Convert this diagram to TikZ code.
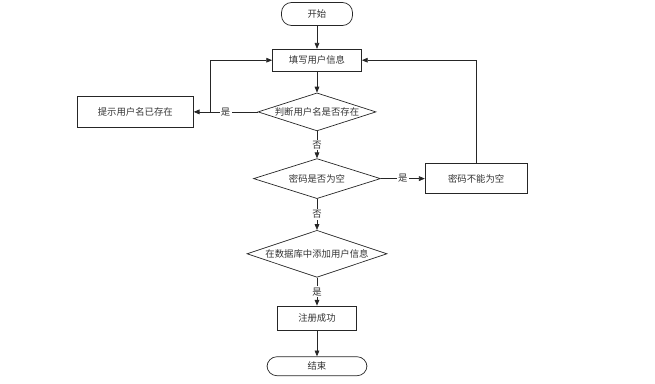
\documentclass[tikz,border=0pt]{standalone}
\usepackage{fontspec}
\newfontfamily\cjk{Noto Sans CJK SC}
\usetikzlibrary{positioning, arrows.meta, shapes.geometric}

\begin{document}
\begin{tikzpicture}[
    node distance=0.7cm,
    every node/.style={font=\cjk\fontsize{8pt}{9pt}\selectfont, text=black!80},
    flow terminal/.style={
      rectangle,
      draw=black!85,
      rounded corners=0.3cm,
      line width=0.6pt,
      inner sep=0pt
    },
    flow box/.style={
      rectangle,
      draw=black!85,
      line width=0.6pt,
      inner sep=0pt
    },
    flow test/.style={
      diamond,
      draw=black!85,
      line width=0.6pt,
      aspect=3,
      inner sep=0pt
    },
    flow arrow/.style={
      -{Triangle[length=5pt,width=4pt]},
      line width=0.6pt,
      color=black!85
    },
    flow label/.style={
      fill=white,
      inner sep=1pt
    }
  ]

    % fixed frame of the picture
    \useasboundingbox (-9.51,0.42) rectangle (10.14,-11.1);

    \node[flow terminal, minimum width=2.13cm, minimum height=0.69cm] (start) at (0,0) {开始};

    \node[flow box, minimum width=2.67cm, minimum height=0.66cm, below=0.69cm of start] (fill) {填写用户信息};

    \node[flow test, minimum width=3.54cm, minimum height=1.14cm, below=0.63cm of fill] (name test) {判断用户名是否存在};

    \node[flow box, minimum width=3.48cm, minimum height=0.93cm, left=1.92cm of name test] (name used) {提示用户名已存在};

    \node[flow test, minimum width=3.81cm, minimum height=1.2cm, below=0.81cm of name test] (pass test) {密码是否为空};

    \node[flow box, minimum width=3.06cm, minimum height=0.9cm, right=1.32cm of pass test] (pass empty) {密码不能为空};

    \node[flow test, minimum width=4.2cm, minimum height=1.41cm, below=0.93cm of pass test] (db add) {在数据库中添加用户信息};

    \node[flow box, minimum width=2.37cm, minimum height=0.72cm, below=0.84cm of db add] (done) {注册成功};

    \node[flow terminal, minimum width=3cm, minimum height=0.57cm, below=0.78cm of done] (end) {结束};

    \coordinate[right=0.51cm of name used.east] (back left);

    % main line
    \draw[flow arrow] (start) -- (fill);
    \draw[flow arrow] (fill) -- (name test);
    \draw[flow arrow] (name test) -- (pass test)
      node[midway, flow label] {否};
    \draw[flow arrow] (pass test) -- (db add)
      node[midway, flow label] {否};
    \draw[flow arrow] (db add) -- (done)
      node[midway, flow label] {是};
    \draw[flow arrow] (done) -- (end);

    % side branches
    \draw[flow arrow] (name test) -- (name used)
      node[midway, flow label] {是};
    \draw[flow arrow] (pass test) -- (pass empty)
      node[midway, flow label] {是};

    % back to the form
    \draw[flow arrow] (back left) |- (fill.west);
    \draw[flow arrow] (pass empty.north) |- (fill.east);

  \end{tikzpicture}
\end{document}
